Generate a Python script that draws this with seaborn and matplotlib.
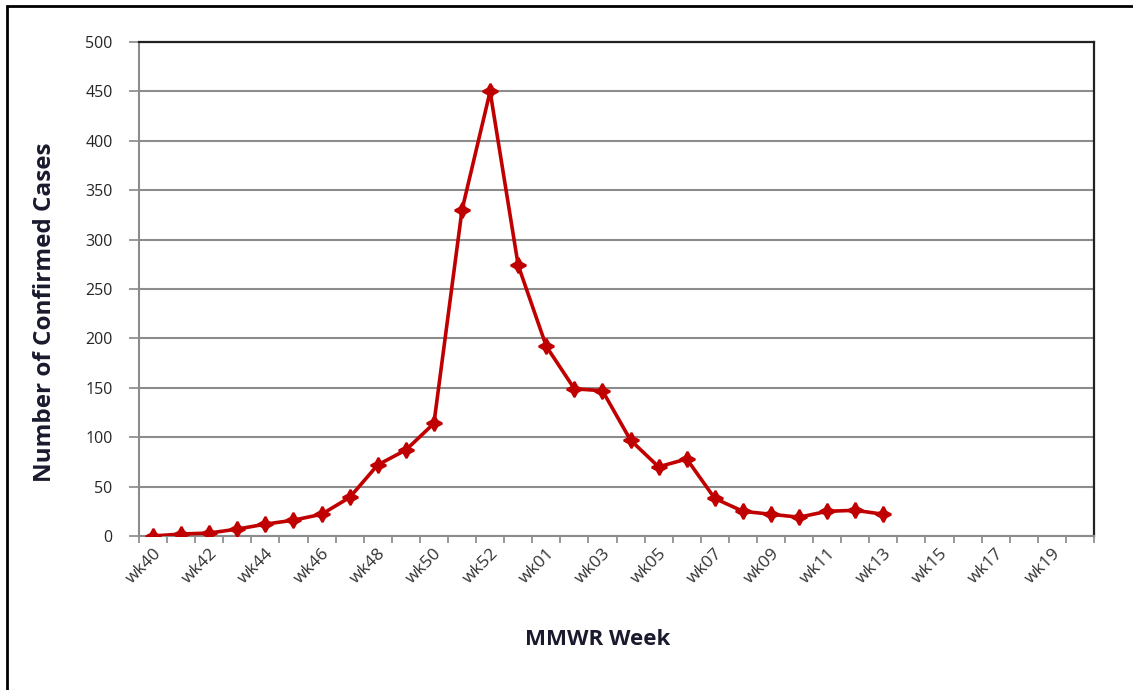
import numpy as np
import pandas as pd
import matplotlib
matplotlib.use("Agg")
import matplotlib.pyplot as plt
import seaborn as sns
from matplotlib.patches import Rectangle

# ---- data ----
weeks_all = ([f"wk{w}" for w in range(40, 54)] + [f"wk{w:02d}" for w in range(1, 21)])
weeks_data = weeks_all[:27]
cases = [0, 2, 3, 7, 12, 16, 22, 39, 72, 87, 114, 330, 450, 274,
         192, 149, 147, 97, 70, 78, 38, 25, 22, 19, 25, 26, 22]
y_ticks = [0, 50, 100, 150, 200, 250, 300, 350, 400, 450, 500]

sns.set_theme(style="white")
plt.rcParams['font.family'] = ['Open Sans', 'DejaVu Sans']

fig = plt.figure(figsize=(11.33, 6.9), dpi=100)
ax = fig.add_axes([139/1133, 1-536/690, (1094-139)/1133, (536-42)/690])

df = pd.DataFrame({"pos": [weeks_all.index(w) + 0.5 for w in weeks_data],
                   "cases": cases})
sns.lineplot(data=df, x="pos", y="cases", ax=ax, color="#C00000", linewidth=2.6,
             marker=(4, 1, 0), markersize=11, markeredgecolor="#C00000",
             markerfacecolor="#C00000", markeredgewidth=1.6, zorder=5)

n = len(weeks_all)
ax.set_xlim(0, n)
ax.set_ylim(0, 500)
ax.set_yticks(y_ticks)
ax.set_yticklabels([str(v) for v in y_ticks], fontsize=11.5)
ax.set_xticks(np.arange(0, n + 1))
ax.set_xticklabels([])
ax.set_xticks(np.arange(0, n, 2) + 0.5, minor=True)
ax.set_xticklabels(weeks_all[::2], minor=True, rotation=45, ha="right",
                   rotation_mode="anchor", fontsize=12.5, color="#333333")
ax.tick_params(axis="x", which="major", direction="out", length=5, width=1.2,
               color="#888888", bottom=True)
ax.tick_params(axis="x", which="minor", length=0, pad=7)
ax.tick_params(axis="y", which="major", direction="out", length=7, width=1.2,
               color="#888888", left=True, pad=12)

ax.yaxis.grid(True, color="#8c8c8c", linewidth=1.5)
ax.xaxis.grid(False)
ax.set_axisbelow(True)
for s in ["left", "bottom"]:
    ax.spines[s].set_color("#8c8c8c")
    ax.spines[s].set_linewidth(1.5)
for s in ["top", "right"]:
    ax.spines[s].set_color("#222222")
    ax.spines[s].set_linewidth(1.6)

ax.set_xlabel("MMWR Week", fontsize=16, fontweight="bold", color="#1a1a2e")
ax.xaxis.set_label_coords(0.48, -0.21)
ax.xaxis.label.set_va("center")
ax.set_ylabel("Number of Confirmed Cases", fontsize=17.5, fontweight="bold", color="#1a1a2e")
ax.yaxis.set_label_coords(-0.098, 0.453)
ax.yaxis.label.set_va("center")

fig.add_artist(Rectangle((7/1133, -0.05), 1.1, 1 - 6/690 + 0.05,
                         transform=fig.transFigure, fill=False,
                         edgecolor="black", linewidth=2))

fig.savefig("out.png", dpi=100, facecolor="white")
